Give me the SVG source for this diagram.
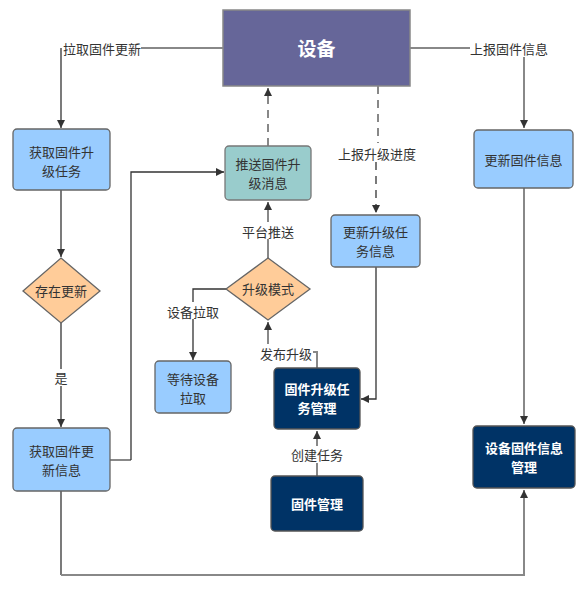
<svg xmlns="http://www.w3.org/2000/svg" width="588" height="594" viewBox="0 0 588 594">
<defs>
<marker id="ah" viewBox="0 0 10 10" refX="10" refY="5" markerWidth="8" markerHeight="8" markerUnits="userSpaceOnUse" orient="auto">
<path d="M0,0 L10,5 L0,10 z" fill="#333"/>
</marker>
<style>
.t{font-family:"Noto Sans CJK SC","Liberation Sans",sans-serif;font-size:13px;fill:#333;text-anchor:middle}
.w{fill:#fff;font-weight:bold}
.lbl{font-family:"Noto Sans CJK SC","Liberation Sans",sans-serif;font-size:13px;fill:#333;text-anchor:middle;dominant-baseline:central}
.bg{fill:#fff}
.c{fill:none;stroke:#333;stroke-width:1.3}
.g{fill:none;stroke:#888;stroke-width:2}
.d{stroke-dasharray:8,6}
.blue{fill:#99ccff;stroke:#666;stroke-width:1.3}
.teal{fill:#99cccc;stroke:#777;stroke-width:1.3}
.ora{fill:#ffcc99;stroke:#666;stroke-width:1.3}
.navy{fill:#003366;stroke:#555;stroke-width:1.3}
</style>
</defs>
<rect width="588" height="594" fill="#fff"/>
<g id="connectors">
<path class="g" d="M223,48 H140"/>
<path class="c" d="M61,48 V128" marker-end="url(#ah)"/>
<path class="g" d="M410,48 H470"/>
<path class="g" d="M524,55 V128" marker-end="url(#ah)"/>
<path class="g d" d="M268,146 V88" marker-end="url(#ah)"/>
<path class="g d" d="M378,86 V143"/>
<path class="c d" d="M376,162 V213" marker-end="url(#ah)"/>
<path class="c" d="M61,190 V257" marker-end="url(#ah)"/>
<path class="c" d="M61,323 V427" marker-end="url(#ah)"/>
<path class="g" d="M110,460 H131"/>
<path class="c" d="M131,460 V172 H224" marker-end="url(#ah)"/>
<path class="g" d="M268,258 V202" marker-end="url(#ah)"/>
<path class="c" d="M226,289 H193 V360" marker-end="url(#ah)"/>
<path class="g" d="M317,368 V352 H268"/>
<path class="g" d="M268,352 V322" marker-end="url(#ah)"/>
<path class="c" d="M376,267 V399 H361" marker-end="url(#ah)"/>
<path class="g" d="M317,476 V431" marker-end="url(#ah)"/>
<path class="g" d="M524,188 V424" marker-end="url(#ah)"/>
<path class="c" d="M61,491 V575"/>
<path class="g" d="M61,575 H524 V490" marker-end="url(#ah)"/>
<g id="labels">
<rect class="bg" x="63" y="40" width="78" height="17"/>
<text class="lbl" x="102" y="48">拉取固件更新</text>
<rect class="bg" x="470" y="40" width="78" height="17"/>
<text class="lbl" x="509" y="48">上报固件信息</text>
<rect class="bg" x="338" y="144" width="78" height="17"/>
<text class="lbl" x="377" y="153">上报升级进度</text>
<rect class="bg" x="241" y="222" width="54" height="17"/>
<text class="lbl" x="268" y="231">平台推送</text>
<rect class="bg" x="166" y="302" width="54" height="17"/>
<text class="lbl" x="193" y="311">设备拉取</text>
<rect class="bg" x="259" y="344" width="54" height="17"/>
<text class="lbl" x="286" y="353">发布升级</text>
<rect class="bg" x="54" y="369" width="15" height="17"/>
<text class="lbl" x="61" y="377">是</text>
<rect class="bg" x="290" y="446" width="54" height="17"/>
<text class="lbl" x="317" y="454">创建任务</text>
</g>
</g>
<g id="device">
<rect x="223" y="10" width="187" height="76" fill="#666699" stroke="#888" stroke-width="1.5"/>
<text class="t w" x="316.5" y="56" style="font-size:19px">设备</text>
</g>
<g id="getTask">
<rect class="blue" x="13" y="129" width="97" height="61" rx="4"/>
<text class="t" x="61.5" y="157">获取固件升<tspan x="61.5" dy="19">级任务</tspan></text>
</g>
<g id="hasUpdate">
<polygon class="ora" points="61,258 100,291 61,323 23,291"/>
<text class="t" x="61" y="296">存在更新</text>
</g>
<g id="getInfo">
<rect class="blue" x="13" y="428" width="97" height="63" rx="4"/>
<text class="t" x="61.5" y="456">获取固件更<tspan x="61.5" dy="19">新信息</tspan></text>
</g>
<g id="push">
<rect class="teal" x="225" y="146" width="86" height="54" rx="4"/>
<text class="t" x="268" y="169">推送固件升<tspan x="268" dy="19">级消息</tspan></text>
</g>
<g id="mode">
<polygon class="ora" points="268,258 310,289 268,320 226,289"/>
<text class="t" x="268" y="294">升级模式</text>
</g>
<g id="wait">
<rect class="blue" x="155" y="361" width="76" height="52" rx="4"/>
<text class="t" x="193" y="384">等待设备<tspan x="193" dy="19">拉取</tspan></text>
</g>
<g id="updTask">
<rect class="blue" x="331" y="215" width="89" height="52" rx="4"/>
<text class="t" x="375.5" y="237">更新升级任<tspan x="375.5" dy="19">务信息</tspan></text>
</g>
<g id="taskMgr">
<rect class="navy" x="274" y="368" width="86" height="61" rx="4"/>
<text class="t w" x="317" y="394">固件升级任<tspan x="317" dy="19">务管理</tspan></text>
</g>
<g id="fwMgr">
<rect class="navy" x="271" y="476" width="92" height="55" rx="4"/>
<text class="t w" x="317" y="509">固件管理</text>
</g>
<g id="updFw">
<rect class="blue" x="474" y="130" width="99" height="58" rx="4"/>
<text class="t" x="523.5" y="165">更新固件信息</text>
</g>
<g id="devFwMgr">
<rect class="navy" x="473" y="426" width="102" height="62" rx="4"/>
<text class="t w" x="524" y="453">设备固件信息<tspan x="524" dy="19">管理</tspan></text>
</g>
</svg>
